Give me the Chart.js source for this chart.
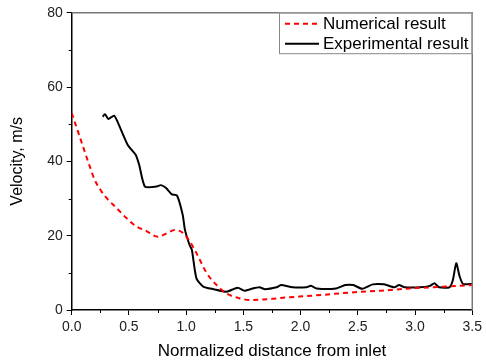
<!DOCTYPE html>
<html><head><meta charset="utf-8">
<script src="https://cdn.jsdelivr.net/npm/chart.js@4.4.1/dist/chart.umd.min.js"></script>
<style>html,body{margin:0;padding:0;background:#fff}#w{width:486px;height:362px}</style>
</head><body><div id="w"><canvas id="c" width="486" height="362"></canvas></div>
<script>
const numX = [0, 0.055, 0.113, 0.157, 0.2, 0.258, 0.317, 0.39, 0.476, 0.564, 0.65, 0.753, 0.84, 0.9, 0.97, 1.03, 1.09, 1.18, 1.27, 1.35, 1.45, 1.56, 1.75, 1.88, 1.99, 2.2, 2.43, 2.7, 2.95, 3.2, 3.5];
const numY = [53, 48, 42.7, 38.7, 35.1, 32, 29.7, 27.5, 24.8, 22.5, 21.3, 19.7, 20.8, 21.5, 20.8, 18.5, 15.3, 9.9, 6.6, 4.5, 3.3, 2.7, 3.0, 3.4, 3.6, 4.1, 4.7, 5.2, 5.8, 6.2, 6.7];
const expX = [0.27, 0.29, 0.32, 0.37, 0.40, 0.49, 0.56, 0.59, 0.64, 0.74, 0.78, 0.825, 0.875, 0.92, 0.97, 0.99, 1.03, 1.05, 1.09, 1.15, 1.24, 1.35, 1.45, 1.51, 1.56, 1.64, 1.69, 1.79, 1.83, 1.93, 2.05, 2.09, 2.14, 2.31, 2.39, 2.46, 2.54, 2.63, 2.73, 2.82, 2.86, 2.91, 3.04, 3.13, 3.17, 3.21, 3.30, 3.33, 3.36, 3.39, 3.42, 3.5];
const expY = [52, 52.7, 51.4, 52.3, 50.7, 44.4, 41.7, 39, 33.2, 33.2, 33.6, 32.8, 31.1, 30.8, 25.6, 21.5, 17.5, 16.2, 8.5, 6.3, 5.6, 4.9, 6, 5.2, 5.6, 6.1, 5.6, 6.1, 6.7, 6.1, 6.1, 6.5, 5.8, 5.8, 6.7, 6.7, 5.7, 6.9, 6.9, 6.1, 6.7, 6.1, 6.1, 6.5, 7.2, 6.1, 6.1, 8, 12.6, 9, 7, 7];
const xTicks = [0, 0.5, 1.0, 1.5, 2.0, 2.5, 3.0, 3.5];
const yTicks = [0, 20, 40, 60, 80];
const seriesNames = ['Numerical result', 'Experimental result'];
const xTitle = 'Normalized distance from inlet';
const yTitle = 'Velocity, m/s';

const FONT = '"Liberation Sans", Arial, sans-serif';
const toPts = (xs, ys) => xs.map((x, i) => ({x, y: ys[i]}));

const frame = {
  id: 'frame',
  afterDraw(chart) {
    const {ctx, chartArea: a, scales} = chart;
    ctx.save();
    ctx.strokeStyle = '#777';
    ctx.lineWidth = 1.5;
    ctx.beginPath();
    ctx.moveTo(a.left, a.top); ctx.lineTo(a.right, a.top); ctx.lineTo(a.right, a.bottom);
    ctx.stroke();
    ctx.strokeStyle = '#000';
    ctx.lineWidth = 1;
    ctx.beginPath();
    for (let v = 0.25; v < 3.5; v += 0.5) {
      const px = Math.round(scales.x.getPixelForValue(v)) + 0.5;
      ctx.moveTo(px, a.bottom); ctx.lineTo(px, a.bottom + 3);
    }
    for (let v = 10; v < 80; v += 20) {
      const py = Math.round(scales.y.getPixelForValue(v)) + 0.5;
      ctx.moveTo(a.left, py); ctx.lineTo(a.left - 3, py);
    }
    ctx.stroke();
    const lx = 279, ly = a.top, lw = a.right - 279, lh = 41.5;
    ctx.fillStyle = '#fff';
    ctx.fillRect(lx, ly, lw, lh);
    ctx.strokeStyle = '#888';
    ctx.lineWidth = 1;
    ctx.strokeRect(lx + 0.5, ly + 0.5, lw - 1, lh - 1);
    ctx.font = '17px ' + FONT;
    ctx.textBaseline = 'middle';
    chart.data.datasets.forEach((ds, i) => {
      const y = ly + 11 + i * 20;
      ctx.save();
      ctx.strokeStyle = ds.borderColor;
      ctx.lineWidth = 2;
      ctx.setLineDash(ds.borderDash || []);
      ctx.beginPath(); ctx.moveTo(285, y); ctx.lineTo(319, y); ctx.stroke();
      ctx.restore();
      ctx.fillStyle = '#000';
      ctx.fillText(ds.label, 323, y + 1);
    });
    ctx.restore();
  }
};

new Chart(document.getElementById('c'), {
  type: 'line',
  data: {
    datasets: [
      {label: seriesNames[0], data: toPts(numX, numY), borderColor: '#ff0000', borderWidth: 2, borderDash: [5, 4], pointRadius: 0, cubicInterpolationMode: 'monotone', fill: false},
      {label: seriesNames[1], data: toPts(expX, expY), borderColor: '#000000', borderWidth: 2, pointRadius: 0, tension: 0.2, fill: false}
    ]
  },
  options: {
    responsive: false,
    animation: false,
    layout: {padding: {top: 12.7, right: 13.3, left: 0, bottom: 0}},
    plugins: {legend: {display: false}, tooltip: {enabled: false}},
    scales: {
      x: {
        type: 'linear', min: 0, max: 3.5,
        afterBuildTicks: s => { s.ticks = xTicks.map(v => ({value: v})); },
        afterFit: s => { s.height = 52; },
        ticks: {color: '#222', font: {family: FONT, size: 14}, padding: 4, callback: v => v.toFixed(1), maxRotation: 0},
        grid: {drawOnChartArea: false, color: '#000', tickLength: 5, tickWidth: 1},
        border: {color: '#000', width: 1.5},
        title: {display: true, text: xTitle, color: '#000', font: {family: FONT, size: 17}, padding: {top: 1, bottom: 0}}
      },
      y: {
        min: 0, max: 80,
        afterBuildTicks: s => { s.ticks = yTicks.map(v => ({value: v})); },
        afterFit: s => { s.width = 71.7; },
        ticks: {color: '#222', font: {family: FONT, size: 14}, padding: 4},
        grid: {drawOnChartArea: false, color: '#000', tickLength: 5, tickWidth: 1},
        border: {color: '#000', width: 1.5},
        title: {display: true, text: yTitle, color: '#000', font: {family: FONT, size: 16}, padding: {top: 8, bottom: 6}}
      }
    }
  },
  plugins: [frame]
});
</script></body></html>
